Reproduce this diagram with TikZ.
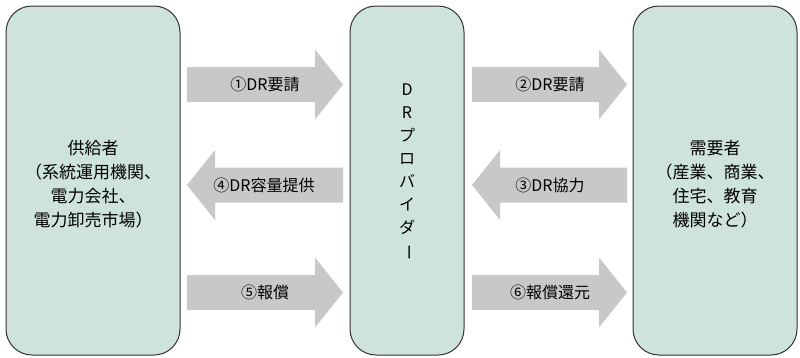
\documentclass[tikz,border=0pt]{standalone}
\usepackage{fontspec}
\setmainfont{Noto Sans CJK JP}
\usepackage{graphicx}
\definecolor{boxfill}{HTML}{CDE3DC}
\definecolor{boxline}{HTML}{333333}
\definecolor{arrowgray}{HTML}{C8C8C8}
\tikzset{
  entity/.style={draw=boxline, line width=1pt, fill=boxfill, rounded corners=26pt},
  blockarrow/.style={fill=arrowgray, draw=none},
  arrowlabel/.style={font=\fontsize{16}{18}\selectfont, inner sep=0pt},
  boxlabel/.style={font=\fontsize{17}{24}\selectfont, align=center, inner sep=0pt},
}
% right-pointing block arrow: #1 = x start, #2 = x tip, #3 = y centre
\newcommand\myrightarrow[3]{%
  \fill[blockarrow] (#1,#3-17.5) -- (#2-28,#3-17.5) -- (#2-28,#3-35) -- (#2,#3)
    -- (#2-28,#3+35) -- (#2-28,#3+17.5) -- (#1,#3+17.5) -- cycle;}
% left-pointing block arrow: #1 = x tip, #2 = x end, #3 = y centre
\newcommand\myleftarrow[3]{%
  \fill[blockarrow] (#2,#3-17.5) -- (#1+28,#3-17.5) -- (#1+28,#3-35) -- (#1,#3)
    -- (#1+28,#3+35) -- (#1+28,#3+17.5) -- (#2,#3+17.5) -- cycle;}
\begin{document}
\begin{tikzpicture}[x=1pt,y=-1pt]
\useasboundingbox (0,0) rectangle (800,357);
% boxes
\draw[entity] (6,6) rectangle (180,355);
\draw[entity] (350,6) rectangle (464,355);
\draw[entity] (633,6) rectangle (797,355);
% box labels
\node[boxlabel] (supply) at (93,184) {供給者\\（系統運用機関、\\電力会社、\\電力卸売市場）};
\node[boxlabel] (demand) at (715,184) {需要者\\（産業、商業、\\住宅、教育\\機関など）};
\node[font=\fontsize{16}{23}\selectfont, align=center, inner sep=0pt] (provider) at (407,172)
  {D\\R\\プ\\ロ\\バ\\イ\\ダ\\\rotatebox[origin=c]{-90}{ー}};
% arrows
\myrightarrow{187}{343}{84.5}
\myrightarrow{472}{627}{84.5}
\myleftarrow{187}{343}{185}
\myleftarrow{472}{627}{185}
\myrightarrow{187}{343}{292.5}
\myrightarrow{472}{627}{292.5}
% arrow labels
\node[arrowlabel] (a1) at (265,84.5) {①DR要請};
\node[arrowlabel] (a2) at (550,84.5) {②DR要請};
\node[arrowlabel] (a3) at (550,185) {③DR協力};
\node[arrowlabel] (a4) at (264,185) {④DR容量提供};
\node[arrowlabel] (a5) at (265,292.5) {⑤報償};
\node[arrowlabel] (a6) at (550,292.5) {⑥報償還元};
\end{tikzpicture}
\end{document}
